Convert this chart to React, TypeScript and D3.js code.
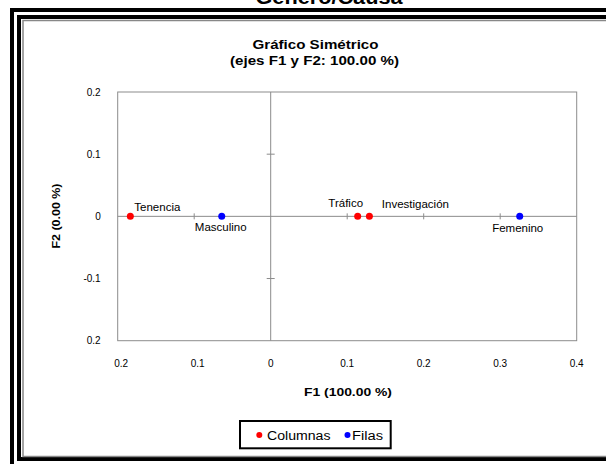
import React from "react";
import * as d3 from "d3";

const columnNames = ["Tenencia", "Tráfico", "Investigación"];
const columnF1 = [-0.1835, 0.1137, 0.129];
const rowNames = ["Masculino", "Femenino"];
const rowF1 = [-0.064, 0.3255];
const xTickValues = [-0.2, -0.1, 0, 0.1, 0.2, 0.3, 0.4];
const xTickLabels = ["0.2", "0.1", "0", "0.1", "0.2", "0.3", "0.4"];
const yTickValues = [0.2, 0.1, 0, -0.1, -0.2];
const yTickLabels = ["0.2", "0.1", "0", "-0.1", "0.2"];
const legendLabels = ["Columnas", "Filas"];

// label placement (layout only)
const labelOffset: Record<string, [number, number]> = {
  Tenencia: [27, -5],
  "Tráfico": [-12, -9],
  "Investigación": [46, -8],
  Masculino: [-1, 15],
  Femenino: [-2, 16],
};

const FONT = "'Liberation Sans', Arial, sans-serif";
const RED = "#ff0000";
const BLUE = "#0000ff";
const GRID = "#8c8c8c";

export default function App() {
  const x = d3.scaleLinear().domain([-0.2, 0.4]).range([117.7, 576.7]);
  const y = d3.scaleLinear().domain([-0.2, 0.2]).range([340.7, 92]);
  const x0 = x(0);
  const y0 = y(0);

  const points = [
    ...columnNames.map((n, i) => ({ name: n, v: columnF1[i], color: RED })),
    ...rowNames.map((n, i) => ({ name: n, v: rowF1[i], color: BLUE })),
  ];

  return (
    <svg
      width={606}
      height={464}
      style={{ position: "absolute", left: 0, top: 0, background: "#fff" }}
      fontFamily={FONT}
    >
      <rect x={0} y={0} width={606} height={464} fill="#fff" />
      {/* top cut title */}
      <text x={329} y={4} textAnchor="middle" fontSize={20} fontWeight="bold" fill="#000" textLength={147} lengthAdjust="spacingAndGlyphs">
        Género/Causa
      </text>
      {/* frames */}
      <rect x={12} y={10} width={700} height={480} fill="none" stroke="#000" strokeWidth={4} />
      <rect x={19} y={17} width={700} height={442} fill="#fff" stroke="#000" strokeWidth={4} />
      <rect x={23} y={20.5} width={700} height={436} fill="#fff" stroke="#888" strokeWidth={1.5} />

      {/* chart title */}
      <text x={315.5} y={49} textAnchor="middle" fontSize={13} fill="#000" fontWeight="bold" textLength={126} lengthAdjust="spacingAndGlyphs">
        Gráfico Simétrico
      </text>
      <text x={314.5} y={64.5} textAnchor="middle" fontSize={13} fill="#000" fontWeight="bold" textLength={169} lengthAdjust="spacingAndGlyphs">
        (ejes F1 y F2: 100.00 %)
      </text>

      {/* plot box */}
      <rect x={x(-0.2)} y={y(0.2)} width={x(0.4) - x(-0.2)} height={y(-0.2) - y(0.2)} fill="none" stroke={GRID} strokeWidth={1} />
      <line x1={x(-0.2)} x2={x(0.4)} y1={y0} y2={y0} stroke={GRID} strokeWidth={1} />
      <line x1={x0} x2={x0} y1={y(0.2)} y2={y(-0.2)} stroke={GRID} strokeWidth={1} />
      {xTickValues.filter((v) => v !== 0 && v > -0.2 && v < 0.4).map((v) => (
        <line key={"xt" + v} x1={x(v)} x2={x(v)} y1={y0 - 3} y2={y0 + 3} stroke={GRID} strokeWidth={1} />
      ))}
      {yTickValues.filter((v) => v !== 0 && v > -0.2 && v < 0.2).map((v) => (
        <line key={"yt" + v} x1={x0 - 4} x2={x0 + 4} y1={y(v)} y2={y(v)} stroke={GRID} strokeWidth={1} />
      ))}

      {/* tick labels */}
      {xTickValues.map((v, i) => (
        <text key={"xl" + i} x={x(v) + (v < 0 ? 3.5 : 0)} y={366.5} textAnchor="middle" fontSize={10} fill="#000">
          {xTickLabels[i]}
        </text>
      ))}
      {yTickValues.map((v, i) => (
        <text key={"yl" + i} x={100.7} y={y(v) + 3.5} textAnchor="end" fontSize={10} fill="#000">
          {yTickLabels[i]}
        </text>
      ))}

      {/* axis titles */}
      <text x={348} y={396} textAnchor="middle" fontSize={11.5} fontWeight="bold" fill="#000" textLength={88} lengthAdjust="spacingAndGlyphs">
        F1 (100.00 %)
      </text>
      <text transform={`translate(60,216) rotate(-90)`} textAnchor="middle" fontSize={11.5} fontWeight="bold" fill="#000" textLength={65} lengthAdjust="spacingAndGlyphs">
        F2 (0.00 %)
      </text>

      {/* points */}
      {points.map((p) => (
        <circle key={p.name} cx={x(p.v)} cy={y0} r={3.5} fill={p.color} />
      ))}
      {points.map((p) => {
        const [dx, dy] = labelOffset[p.name];
        return (
          <text key={"lb" + p.name} x={x(p.v) + dx} y={y0 + dy} textAnchor="middle" fontSize={11.5} fill="#000">
            {p.name}
          </text>
        );
      })}

      {/* legend */}
      <rect x={240} y={421} width={150.7} height={27.3} fill="#fff" stroke="#000" strokeWidth={2} />
      <circle cx={259.3} cy={435} r={3} fill={RED} />
      <text x={267} y={439.5} fontSize={12} fill="#000" textLength={63.5} lengthAdjust="spacingAndGlyphs">
        {legendLabels[0]}
      </text>
      <circle cx={347.5} cy={435} r={3} fill={BLUE} />
      <text x={352} y={439.5} fontSize={12} fill="#000" textLength={31} lengthAdjust="spacingAndGlyphs">
        {legendLabels[1]}
      </text>
    </svg>
  );
}
